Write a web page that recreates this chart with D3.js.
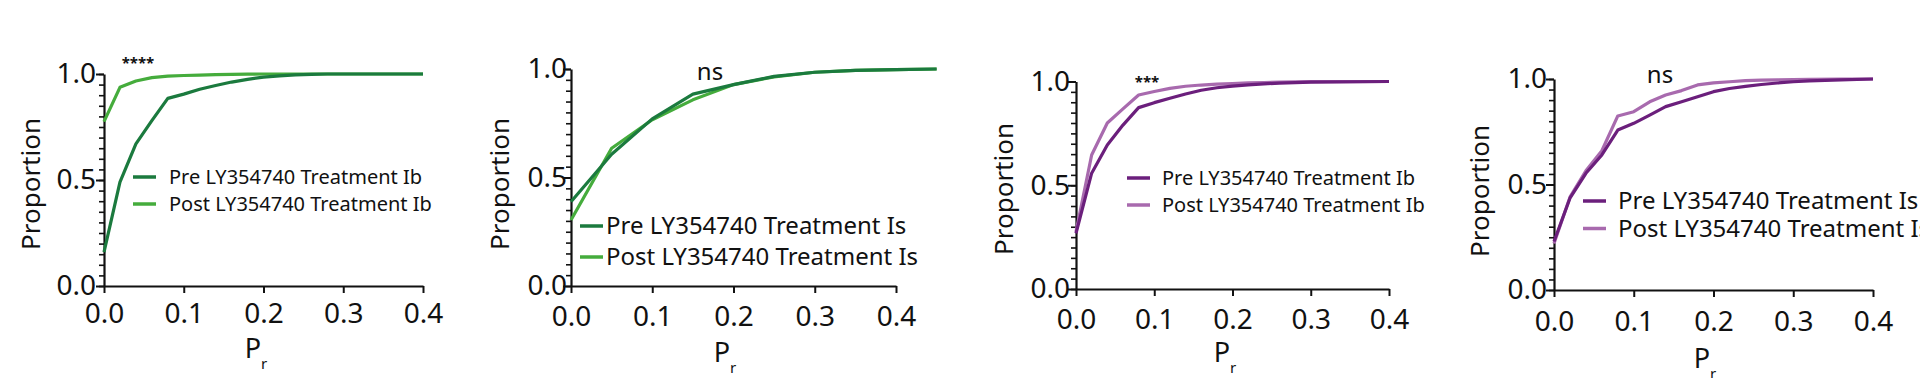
<!DOCTYPE html>
<html>
<head>
<meta charset="utf-8">
<script src="https://cdn.jsdelivr.net/npm/d3@7"></script>
<style>
  body { margin: 0; background: #fff; }
  text { font-family: "Noto Sans", sans-serif; fill: #111; }
</style>
</head>
<body>
<script>
// ---- data ----
// panel 1: green, Ib
const prX1 = [0, 0.02, 0.04, 0.06, 0.08, 0.10, 0.12, 0.14, 0.16, 0.18, 0.20, 0.22, 0.24, 0.26, 0.28, 0.30, 0.40];
const pre1 = [0.16, 0.49, 0.67, 0.78, 0.885, 0.905, 0.928, 0.946, 0.962, 0.975, 0.985, 0.991, 0.996, 0.998, 1.0, 1.0, 1.0];
const post1 = [0.775, 0.937, 0.967, 0.983, 0.99, 0.993, 0.995, 0.997, 0.998, 0.999, 1.0, 1.0, 1.0, 1.0, 1.0, 1.0, 1.0];

// panel 2: green, Is
const prX2 = [0, 0.05, 0.10, 0.15, 0.20, 0.25, 0.30, 0.35, 0.40, 0.45];
const pre2 = [0.388, 0.607, 0.77, 0.884, 0.928, 0.966, 0.985, 0.994, 0.997, 1.0];
const post2 = [0.304, 0.635, 0.766, 0.858, 0.928, 0.964, 0.985, 0.994, 0.997, 1.0];

// panel 3: purple, Ib
const prX3 = [0, 0.02, 0.04, 0.06, 0.08, 0.10, 0.12, 0.14, 0.16, 0.18, 0.20, 0.22, 0.24, 0.26, 0.28, 0.30, 0.40];
const pre3 = [0.268, 0.558, 0.694, 0.79, 0.874, 0.898, 0.919, 0.94, 0.958, 0.97, 0.978, 0.984, 0.989, 0.992, 0.995, 0.997, 1.0];
const post3 = [0.275, 0.646, 0.80, 0.868, 0.935, 0.952, 0.967, 0.977, 0.983, 0.987, 0.99, 0.993, 0.995, 0.997, 0.998, 0.999, 1.0];

// panel 4: purple, Is
const prX4 = [0, 0.02, 0.04, 0.06, 0.08, 0.10, 0.12, 0.14, 0.16, 0.18, 0.20, 0.22, 0.24, 0.26, 0.28, 0.30, 0.32, 0.36, 0.40];
const pre4 = [0.23, 0.435, 0.553, 0.64, 0.758, 0.79, 0.829, 0.869, 0.892, 0.916, 0.94, 0.955, 0.965, 0.974, 0.981, 0.987, 0.991, 0.996, 1.0];
const post4 = [0.22, 0.44, 0.565, 0.66, 0.825, 0.845, 0.892, 0.924, 0.945, 0.972, 0.982, 0.987, 0.992, 0.995, 0.996, 0.997, 0.998, 0.999, 1.0];

const xTicks = [0, 0.1, 0.2, 0.3, 0.4];
const yTicks = [0, 0.5, 1.0];
const seriesNames1 = ["Pre LY354740 Treatment Ib", "Post LY354740 Treatment Ib"];
const seriesNames2 = ["Pre LY354740 Treatment Is", "Post LY354740 Treatment Is"];
const sigLabels = ["****", "ns", "***", "ns"];

const greenPre = "#1b7a3e", greenPost = "#45ac3c";
const purplePre = "#6b1f7c", purplePost = "#a86aae";

// ---- layout per panel ----
const panels = [
  {xs: prX1, pre: pre1, post: post1, names: seriesNames1, sig: sigLabels[0], colors: [greenPre, greenPost],
   left: 104, right: 423, top: 74, bottom: 286, xPad: 10, yPad: 0,
   sigX: 138, sigY: 68, sigSize: 15, sigBold: true,
   legX: 133, legY: 177, legGap: 27, legFont: 20, legTextX: 169,
   yLabX: 40, yLabY: 184, prX: 256, prY: 358},
  {xs: prX2, pre: pre2, post: post2, names: seriesNames2, sig: sigLabels[1], colors: [greenPre, greenPost],
   left: 571, right: 896, top: 69, bottom: 286, xPad: 13.5, yPad: -4,
   sigX: 710, sigY: 80, sigSize: 24, sigBold: false,
   legX: 580, legY: 226, legGap: 31, legFont: 24, legTextX: 606,
   yLabX: 509, yLabY: 184, prX: 725, prY: 362},
  {xs: prX3, pre: pre3, post: post3, names: seriesNames1, sig: sigLabels[2], colors: [purplePre, purplePost],
   left: 1076, right: 1389, top: 81.5, bottom: 289, xPad: 13.5, yPad: -2,
   sigX: 1147, sigY: 87, sigSize: 15, sigBold: true,
   legX: 1127, legY: 178, legGap: 27, legFont: 20, legTextX: 1162,
   yLabX: 1013, yLabY: 189, prX: 1225, prY: 362},
  {xs: prX4, pre: pre4, post: post4, names: seriesNames2, sig: sigLabels[3], colors: [purplePre, purplePost],
   left: 1554, right: 1873, top: 79, bottom: 290, xPad: 14, yPad: -1,
   sigX: 1660, sigY: 83, sigSize: 24, sigBold: false,
   legX: 1583, legY: 201, legGap: 27.5, legFont: 24, legTextX: 1618,
   yLabX: 1489, yLabY: 191, prX: 1705, prY: 368}
];

const svg = d3.select("body").append("svg")
  .attr("width", 1920)
  .attr("height", 378);

function drawPanel(p) {
  const x = d3.scaleLinear().domain([0, 0.4]).range([p.left, p.right]);
  const y = d3.scaleLinear().domain([0, 1]).range([p.bottom, p.top]);
  const g = svg.append("g");

  // minor y ticks every 0.05
  g.append("g")
    .attr("transform", `translate(${p.left},0)`)
    .call(d3.axisLeft(y).tickValues(d3.range(0, 1.001, 0.05)).tickSize(5).tickFormat(""))
    .call(a => a.select(".domain").remove())
    .selectAll("line").attr("stroke", "#111").attr("stroke-width", 1.6);

  // major y axis
  const yAx = g.append("g")
    .attr("transform", `translate(${p.left},0)`)
    .call(d3.axisLeft(y).tickValues(yTicks).tickSize(8).tickSizeOuter(0).tickPadding(p.yPad).tickFormat(d3.format(".1f")));
  yAx.select(".domain").attr("stroke", "#111").attr("stroke-width", 2.2);
  yAx.selectAll("line").attr("stroke", "#111").attr("stroke-width", 2);
  yAx.selectAll("text").attr("font-size", 28).attr("font-family", "Noto Sans").attr("fill", "#111");

  // x axis
  const xAx = g.append("g")
    .attr("transform", `translate(0,${p.bottom})`)
    .call(d3.axisBottom(x).tickValues(xTicks).tickSize(7).tickSizeOuter(0).tickPadding(p.xPad).tickFormat(d3.format(".1f")));
  xAx.select(".domain").attr("stroke", "#111").attr("stroke-width", 2.2);
  xAx.selectAll("line").attr("stroke", "#111").attr("stroke-width", 2);
  xAx.selectAll("text").attr("font-size", 28).attr("font-family", "Noto Sans").attr("fill", "#111");

  // curves
  const line = xs => d3.line()
    .x((d, i) => x(xs[i]))
    .y(d => y(d));
  [p.post, p.pre].forEach((vals, k) => {
    g.append("path")
      .datum(vals)
      .attr("d", line(p.xs))
      .attr("fill", "none")
      .attr("stroke", k === 0 ? p.colors[1] : p.colors[0])
      .attr("stroke-width", 3.2)
      .attr("stroke-linejoin", "round");
  });

  // legend
  p.names.forEach((name, i) => {
    const ly = p.legY + i * p.legGap;
    g.append("line")
      .attr("x1", p.legX).attr("x2", p.legX + 23)
      .attr("y1", ly).attr("y2", ly)
      .attr("stroke", p.colors[i])
      .attr("stroke-width", 3.5);
    g.append("text")
      .attr("x", p.legTextX)
      .attr("y", ly)
      .attr("dy", "0.35em")
      .attr("font-size", p.legFont)
      .text(name);
  });

  // significance
  g.append("text")
    .attr("x", p.sigX)
    .attr("y", p.sigY)
    .attr("text-anchor", "middle")
    .attr("font-size", p.sigSize)
    .attr("font-weight", p.sigBold ? "bold" : "normal")
    .text(p.sig);

  // axis titles
  g.append("text")
    .attr("transform", `translate(${p.yLabX},${p.yLabY}) rotate(-90)`)
    .attr("text-anchor", "middle")
    .attr("font-size", 26)
    .text("Proportion");

  const pr = g.append("text")
    .attr("x", p.prX)
    .attr("y", p.prY)
    .attr("text-anchor", "middle")
    .attr("font-size", 27);
  pr.append("tspan").text("P");
  pr.append("tspan").attr("font-size", 15).attr("dy", 11).text("r");
}

panels.forEach(drawPanel);
</script>
</body>
</html>
